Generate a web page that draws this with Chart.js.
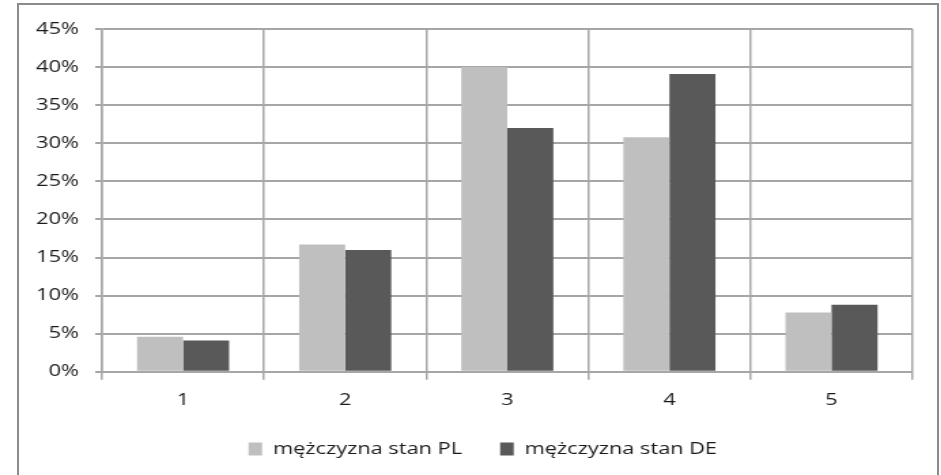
<!doctype html>
<html lang="pl">
    <head>
        <meta charset="UTF-8" />
        <title>mężczyzna stan PL / DE</title>
        <style>
            body {
                margin: 0;
                background: #ffffff;
                width: 941px;
                height: 475px;
                overflow: hidden;
                position: relative;
            }
            .frame {
                position: absolute;
                left: 17px;
                top: 3px;
                width: 922px;
                height: 520px;
                border: 2px solid #8c8c8c;
                box-sizing: border-box;
            }
            /* the source picture is stretched sideways, so the chart is too */
            .stretch {
                position: absolute;
                left: 0;
                top: 0;
                width: 692px;
                height: 475px;
                transform: scaleX(1.36);
                transform-origin: 0 0;
            }
        </style>
    </head>

    <body>
        <div class="frame"></div>
        <div class="stretch">
            <canvas id="barChart"></canvas>
        </div>

        <script src="https://cdn.jsdelivr.net/npm/chart.js@4.4.1/dist/chart.umd.min.js"></script>

        <script>
            // categories on the x axis
            const categories = ["1", "2", "3", "4", "5"];

            // series values, in percent
            const plValues = [4.6, 16.7, 40.0, 30.8, 7.8];
            const deValues = [4.1, 16.0, 32.0, 39.1, 8.8];

            const seriesNames = ["mężczyzna stan PL", "mężczyzna stan DE"];
            const seriesColors = ["#bfbfbf", "#595959"];

            const font = { family: "'Open Sans', sans-serif", size: 16 };
            const textColor = "#1a1a1a";
            const gridColor = "#a6a6a6";

            // the y labels sit left of the padded area, so widen their clip box
            const unclipLabels = {
                id: "unclipLabels",
                afterLayout(chart) {
                    chart.scales.y.left = 0;
                },
            };

            const context = document.querySelector("#barChart").getContext("2d");
            const barChart = new Chart(context, {
                type: "bar",
                data: {
                    labels: categories,
                    datasets: [
                        {
                            label: seriesNames[0],
                            data: plValues,
                            backgroundColor: seriesColors[0],
                        },
                        {
                            label: seriesNames[1],
                            data: deValues,
                            backgroundColor: seriesColors[1],
                        },
                    ],
                },
                options: {
                    responsive: true,
                    maintainAspectRatio: false,
                    animation: false,
                    categoryPercentage: 0.568,
                    barPercentage: 1,
                    layout: {
                        padding: { left: 39, right: 21, top: 29, bottom: 8 },
                    },
                    plugins: {
                        tooltip: { enabled: false },
                        legend: {
                            position: "bottom",
                            labels: {
                                font: font,
                                color: textColor,
                                boxWidth: 10,
                                boxHeight: 13,
                                padding: 28,
                            },
                        },
                    },
                    scales: {
                        x: {
                            grid: {
                                offset: true,
                                color: gridColor,
                                lineWidth: 1.5,
                                tickLength: 8,
                            },
                            border: { color: gridColor, width: 2 },
                            ticks: { font: font, color: textColor, padding: 11 },
                            afterFit: (scale) => {
                                scale.height -= 8;
                            },
                        },
                        y: {
                            min: 0,
                            max: 45,
                            ticks: {
                                stepSize: 5,
                                font: font,
                                color: textColor,
                                padding: 12,
                                callback: (v) => v + "%",
                            },
                            grid: {
                                color: gridColor,
                                lineWidth: 2,
                                tickLength: 5,
                            },
                            border: { color: gridColor, width: 1.5 },
                            afterFit: (scale) => {
                                scale.width = 36;
                            },
                        },
                    },
                },
                plugins: [unclipLabels],
            });
        </script>
    </body>
</html>
